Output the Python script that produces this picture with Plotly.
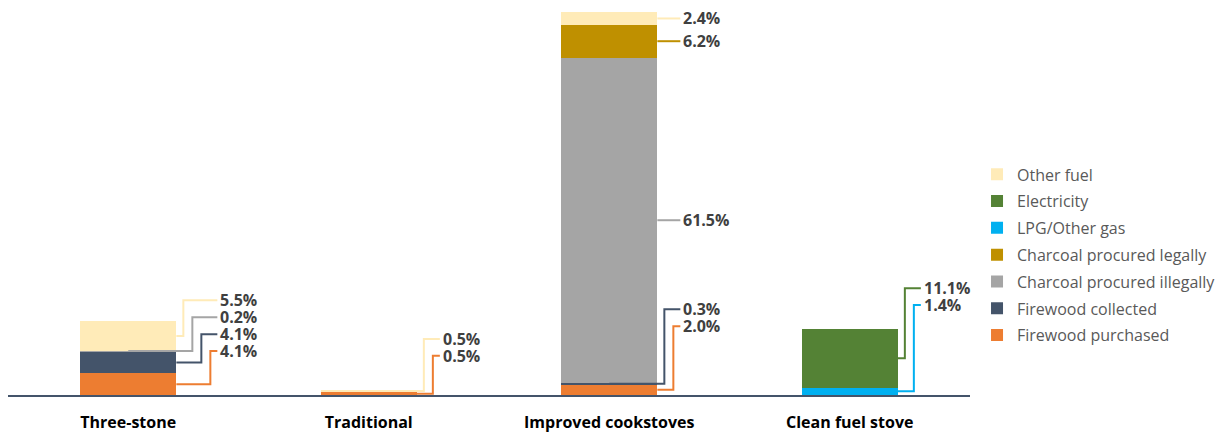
import plotly.graph_objects as go

# ---------------------------------------------------------------------------
# data (percent of households, stacked bottom -> top)
# ---------------------------------------------------------------------------
CATEGORIES = ["Three-stone", "Traditional", "Improved cookstoves", "Clean fuel stove"]

firewood_purchased = [4.1, 0.5, 2.0, 0.0]
firewood_collected = [4.1, 0.0, 0.3, 0.0]
charcoal_illegal = [0.2, 0.0, 61.5, 0.0]
charcoal_legal = [0.0, 0.0, 6.2, 0.0]
lpg_other_gas = [0.0, 0.0, 0.0, 1.4]
electricity = [0.0, 0.0, 0.0, 11.1]
other_fuel = [5.5, 0.5, 2.4, 0.0]

SERIES = [
    ("Firewood purchased", firewood_purchased, "#ED7D31"),
    ("Firewood collected", firewood_collected, "#44546A"),
    ("Charcoal procured illegally", charcoal_illegal, "#A5A5A5"),
    ("Charcoal procured legally", charcoal_legal, "#BF9000"),
    ("LPG/Other gas", lpg_other_gas, "#00B0F0"),
    ("Electricity", electricity, "#548235"),
    ("Other fuel", other_fuel, "#FFEBB8"),
]

# ---------------------------------------------------------------------------
# layout knobs
# ---------------------------------------------------------------------------
FONT = "Open Sans"
BAR_W = 0.4
PX = 1 / 240.5          # one pixel in x-axis units
LABEL_GAP = 3.2         # min spacing between stacked labels (y units)
LABEL_FLOOR = [8.3, 7.4, 13.0, 17.0]  # lowest label height per bar
Y_MAX = 72.8

fig = go.Figure()
xs = list(range(len(CATEGORIES)))

for rank, (name, vals, color) in enumerate(SERIES):
    fig.add_trace(go.Bar(
        x=xs, y=vals, name=name, width=BAR_W,
        marker=dict(color=color, line=dict(width=0)),
        legendgroup=name, legendrank=1000 - rank, hoverinfo="skip",
    ))

# leader lines + value labels
for i, xc in enumerate(xs):
    segs = []
    base = 0.0
    for name, vals, color in SERIES:
        v = vals[i]
        if v > 0:
            segs.append(dict(val=v, mid=base + v / 2, color=color))
        base += v
    prev = None
    for k, s in enumerate(segs):
        y = s["mid"]
        if k == 0:
            y = max(y, LABEL_FLOOR[i])
        if prev is not None:
            y = max(y, prev + LABEL_GAP)
        s["ly"] = y
        s["bent"] = abs(y - s["mid"]) > 1e-6
        prev = y
    bent = [s for s in segs if s["bent"]][::-1]  # top first
    right = xc + BAR_W / 2
    if bent:
        x_end = right + (7 + 9 * (len(bent) - 1) + 7) * PX
    else:
        x_end = right + 25 * PX
    for s in segs:
        x0 = xc if s["val"] < 0.4 else right
        if s["bent"]:
            j = bent.index(s)
            xe = right + (7 + 9 * j) * PX
            path = (f"M {x0},{s['mid']} L {xe},{s['mid']} "
                    f"L {xe},{s['ly']} L {x_end},{s['ly']}")
        else:
            path = f"M {x0},{s['mid']} L {x_end},{s['mid']}"
        fig.add_shape(type="path", path=path, xref="x", yref="y",
                      line=dict(color=s["color"], width=2))
        fig.add_annotation(
            x=x_end + 1 * PX, y=s["ly"], text=f"<b>{s['val']:.1f}%</b>",
            showarrow=False, xanchor="left", yanchor="middle",
            font=dict(family=FONT, size=16, color="#404040"),
        )

fig.update_layout(
    width=1225, height=432,
    margin=dict(l=0, r=263, t=2, b=45),
    barmode="stack",
    plot_bgcolor="white", paper_bgcolor="white",
    font=dict(family=FONT, size=16, color="#595959"),
    legend=dict(
        traceorder="grouped", tracegroupgap=3,
        x=1.0073, xanchor="left", y=0.364, yanchor="middle",
        font=dict(family=FONT, size=16, color="#595959"),
        itemwidth=30,
    ),
    showlegend=True,
)
fig.update_xaxes(
    range=[-0.5, 3.5], tickvals=xs,
    ticktext=[f"<b>{c}</b>" for c in CATEGORIES],
    tickfont=dict(family=FONT, size=16, color="#000000"),
    showline=True, linecolor="#44546A", linewidth=2,
    showgrid=False, zeroline=False, ticks="", ticklabelstandoff=12,
)
fig.update_yaxes(range=[0, Y_MAX], visible=False, showgrid=False, zeroline=False)

fig.write_html("out.html")
